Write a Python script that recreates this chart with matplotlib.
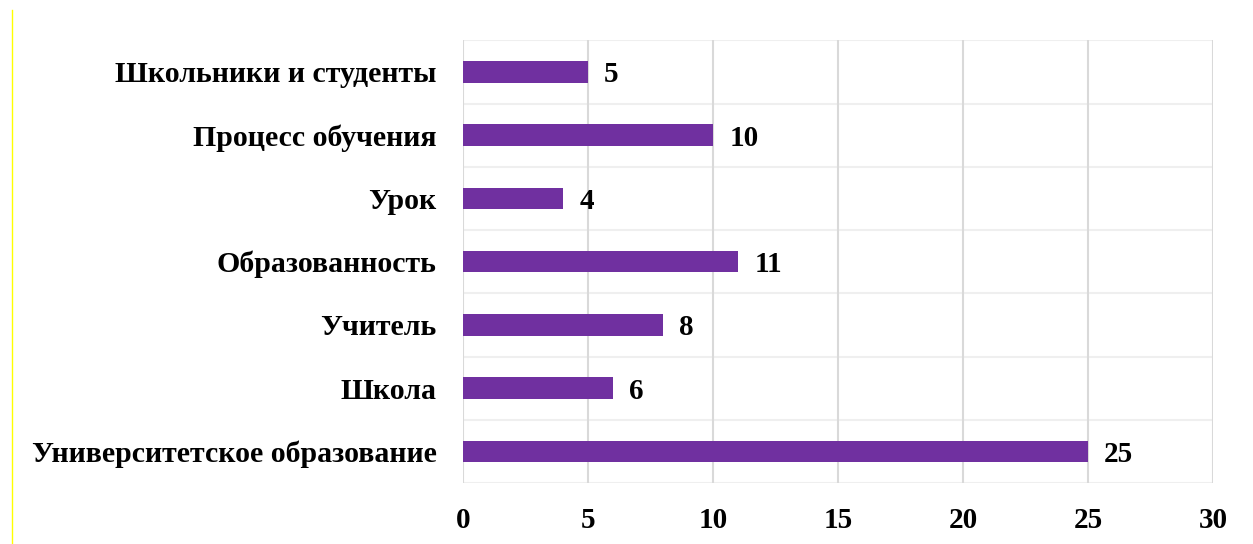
import matplotlib.pyplot as plt
from matplotlib.lines import Line2D

categories = ["Университетское образование", "Школа", "Учитель", "Образованность",
              "Урок", "Процесс обучения", "Школьники и студенты"]
values = [25, 6, 8, 11, 4, 10, 5]
xticks = [0, 5, 10, 15, 20, 25, 30]

plt.rcParams['font.family'] = ['Liberation Serif', 'DejaVu Serif']
plt.rcParams['font.weight'] = 'bold'

fig = plt.figure(figsize=(12.53, 5.44), dpi=100)
ax = fig.add_axes([0.3695, 0.112, 0.5985, 0.814])

pos = list(range(len(categories)))
ax.barh(pos, values, height=0.34, color='#7030A0', zorder=3)

for y, v in zip(pos, values):
    ax.text(v + 0.65, y, str(v), va='center_baseline', ha='left', fontsize=21, fontweight='bold')

ax.set_xlim(0, 30)
ax.set_ylim(-0.5, len(categories) - 0.5)
ax.set_xticks(xticks)
ax.set_xticklabels([str(t) for t in xticks], fontsize=21, fontweight='bold')
ax.set_yticks(pos)
ax.set_yticklabels(categories, fontsize=21.5, fontweight='bold')
ax.tick_params(axis='both', length=0)
ax.tick_params(axis='x', pad=17)
ax.tick_params(axis='y', pad=19)

for x in xticks:
    ax.axvline(x, color='#D9D9D9', lw=1.5, zorder=1)
for b in range(len(categories) + 1):
    ax.axhline(b - 0.5, color='#EFEFEF', lw=1.5, zorder=0)

for s in ax.spines.values():
    s.set_visible(False)

fig.add_artist(Line2D([12 / 1253, 12 / 1253], [0, 1 - 10 / 544],
                      transform=fig.transFigure, color='#FFFF00', lw=1))

fig.savefig('out.png', dpi=100)
